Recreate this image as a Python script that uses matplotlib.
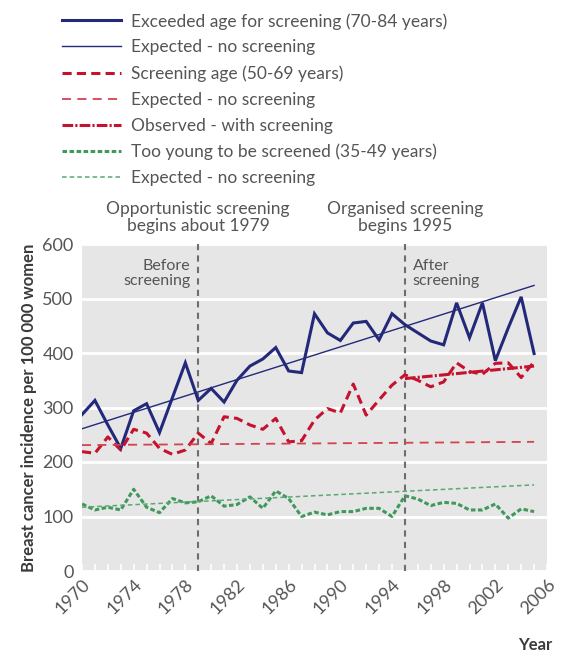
import numpy as np
import matplotlib
matplotlib.use("Agg")
import matplotlib.pyplot as plt

plt.rcParams["font.family"] = ["Lato", "DejaVu Sans"]

# data
years = list(range(1970, 2006))

older = [287, 313, 268, 225, 294, 307, 254, 318, 382, 313,
         335, 310, 350, 376, 389, 410, 367, 364, 472, 437,
         423, 455, 458, 424, 472, 452, 437, 422, 415, 492,
         428, 492, 386, 446, 503, 399]
older_expected = [261, 524]

screening = [219, 216, 246, 222, 260, 253, 225, 214, 222, 253,
             234, 283, 280, 268, 260, 280, 237, 239, 277, 298,
             290, 343, 286, 314, 341, 360, 350, 338, 347, 382,
             366, 361, 381, 382, 355, 384]
screening_expected = [231, 237]
screening_trend_years = [1995, 2005]
screening_trend = [353, 376]

younger = [123, 112, 117, 112, 150, 117, 107, 133, 125, 127,
           138, 119, 122, 136, 115, 147, 133, 100, 108, 103,
           109, 109, 115, 115, 100, 138, 132, 120, 126, 124,
           112, 112, 123, 97, 114, 109]
younger_expected = [117, 158]

trend_ends = [1970, 2005]

NAVY = "#23297a"
RED = "#c4122f"
RED_LIGHT = "#d2434f"
GREEN = "#3f995c"
GREEN_LIGHT = "#5aa873"
TEXT = "#555555"

fig = plt.figure(figsize=(5.65, 6.52), dpi=100)
ax = fig.add_axes([82 / 565, 81 / 652, 465 / 565, 327 / 652])
ax.set_facecolor("#e6e6e6")

l1, = ax.plot(years, older, color=NAVY, lw=2.2, solid_joinstyle="miter",
              label="Exceeded age for screening (70-84 years)")
l2, = ax.plot(trend_ends, older_expected, color=NAVY, lw=1.0,
              label="Expected - no screening")
l3, = ax.plot(years, screening, color=RED, lw=2.2, ls=(0, (3.0, 1.7)),
              label="Screening age (50-69 years)")
l4, = ax.plot(trend_ends, screening_expected, color=RED_LIGHT, lw=1.3,
              ls=(0, (5, 3.5)), label="Expected - no screening")
l5, = ax.plot(screening_trend_years, screening_trend, color=RED, lw=2.2,
              ls=(0, (3.5, 0.7, 0.7, 0.7)), label="Observed - with screening")
l6, = ax.plot(years, younger, color=GREEN, lw=2.2, ls=(0, (1.5, 0.8)),
              label="Too young to be screened (35-49 years)")
l7, = ax.plot(trend_ends, younger_expected, color=GREEN_LIGHT, lw=1.1,
              ls=(0, (3, 2)), label="Expected - no screening")

for yr in (1979, 1995):
    ax.axvline(yr, color="#6e6e6e", lw=1.5, ls=(0, (3, 2.5)), zorder=1)

ax.set_xlim(1970, 2006)
ax.set_ylim(0, 600)
ax.set_xticks(range(1970, 2007, 4))
ax.set_xticks(range(1970, 2007), minor=True)
ax.set_yticks(range(0, 601, 100))
ax.grid(axis="y", color="white", lw=2)
ax.set_axisbelow(True)
for s in ax.spines.values():
    s.set_visible(False)
ax.tick_params(axis="x", which="both", direction="in", color="white",
               length=5, width=1.2, labelcolor=TEXT, labelsize=13, pad=4)
ax.tick_params(axis="y", length=0, labelcolor=TEXT, labelsize=13, pad=6)
for lab in ax.get_xticklabels():
    lab.set_rotation(45)
    lab.set_ha("right")
    lab.set_va("top")
    lab.set_rotation_mode("anchor")

ax.set_ylabel("Breast cancer incidence per 100 000 women", fontsize=12,
              fontweight="bold", color="#3a3a3a", labelpad=4)
fig.text(552 / 565, 1 - 645 / 652, "Year", ha="right", va="center",
         fontsize=12, fontweight="bold", color="#3a3a3a")

ax.text(1979, 618, "Opportunistic screening\nbegins about 1979", ha="center",
        va="bottom", fontsize=12.5, color=TEXT, linespacing=1.12,
        clip_on=False)
ax.text(1995, 618, "Organised screening\nbegins 1995", ha="center",
        va="bottom", fontsize=12.5, color=TEXT, linespacing=1.12,
        clip_on=False)
ax.text(1978.4, 573, "Before\nscreening", ha="right", va="top",
        fontsize=11.5, color=TEXT, linespacing=1.12)
ax.text(1995.6, 573, "After\nscreening", ha="left", va="top",
        fontsize=11.5, color=TEXT, linespacing=1.12)

fig.legend(handles=[l1, l2, l3, l4, l5, l6, l7], loc="upper left",
           bbox_to_anchor=(55 / 565, 1 - 6 / 652), frameon=False,
           fontsize=12.5, labelcolor=TEXT, handlelength=3.4,
           handletextpad=0.6, labelspacing=0.57, borderaxespad=0)

fig.savefig("out.png", dpi=100)
